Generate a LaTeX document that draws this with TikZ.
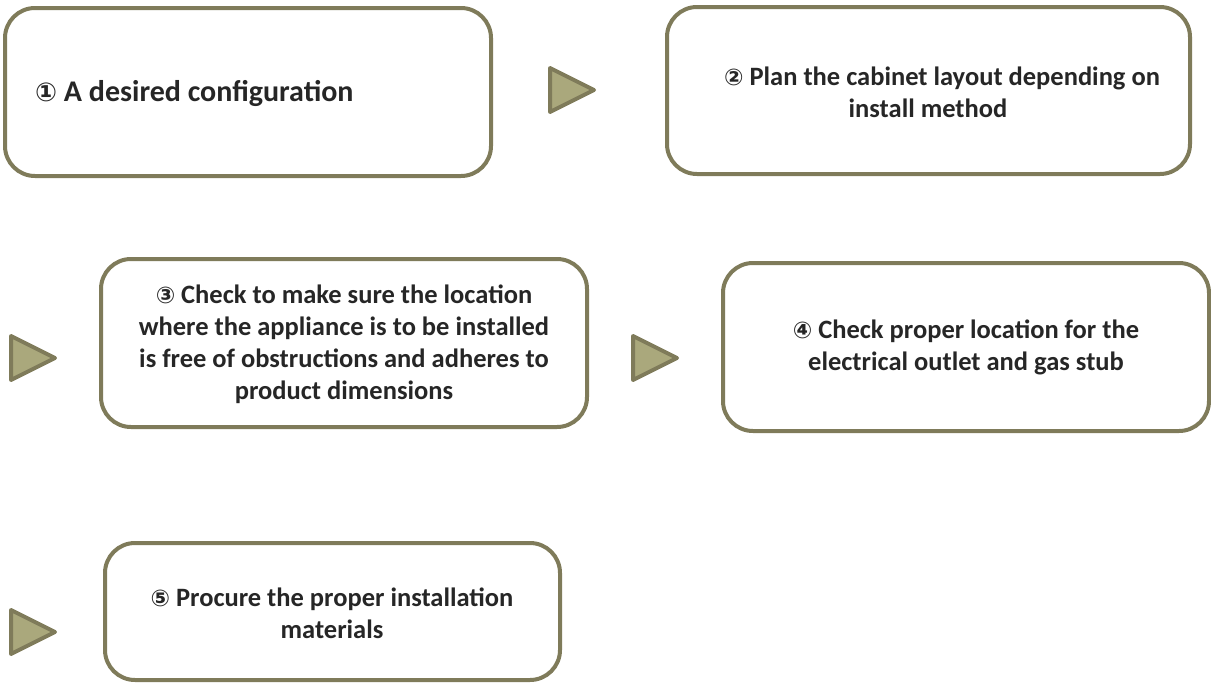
\documentclass[tikz,border=0pt]{standalone}
\usepackage{fontspec}
\setmainfont{Carlito}
\newfontfamily\circfont{DejaVu Sans}
\definecolor{edgeol}{RGB}{127,123,90}
\definecolor{fillol}{RGB}{170,168,124}
\begin{document}
\begin{tikzpicture}[x=1pt,y=-1pt,
  stepbox/.style={draw=edgeol,line width=4pt,rounded corners=30pt,fill=white},
  tri/.style={draw=edgeol,fill=fillol,line width=4pt,line join=round},
  lbl/.style={font=\bfseries\fontsize{26.5}{32}\selectfont,text=black!85,align=center,inner sep=0pt},
  biglbl/.style={lbl,font=\bfseries\fontsize{30}{34}\selectfont}]
\useasboundingbox (0,0) rectangle (1211,683);
\newcommand{\cn}[1]{{\circfont\fontsize{23}{32}\selectfont #1}}
\newcommand{\cnbig}[1]{{\circfont\fontsize{26}{34}\selectfont #1}}
% boxes
\draw[stepbox] (5,8) rectangle (491,176);
\draw[stepbox] (667,7) rectangle (1190,174);
\draw[stepbox] (101,259) rectangle (587,427);
\draw[stepbox] (723,263) rectangle (1209,431);
\draw[stepbox] (105,543) rectangle (560,680);
% texts
\node[biglbl,anchor=west] (t1) at (35,93) {\cnbig{①} A desired configuration};
\node[lbl] (t2) at (942,92) {\cn{②} Plan the cabinet layout depending on\\install method\hspace*{28pt}};
\node[lbl] (t3) at (344,344) {\cn{③} Check to make sure the location\\where the appliance is to be installed\\is free of obstructions and adheres to\\product dimensions};
\node[lbl] (t4) at (966,347) {\cn{④} Check proper location for the\\electrical outlet and gas stub};
\node[lbl] (t5) at (332,613) {\cn{⑤} Procure the proper installation\\materials};
% triangles
\draw[tri] (550,68) -- (594,90) -- (550,112) -- cycle;
\draw[tri] (11,336) -- (55,358) -- (11,380) -- cycle;
\draw[tri] (633,336) -- (677,358) -- (633,380) -- cycle;
\draw[tri] (11,610) -- (55,632) -- (11,654) -- cycle;
\end{tikzpicture}
\end{document}
